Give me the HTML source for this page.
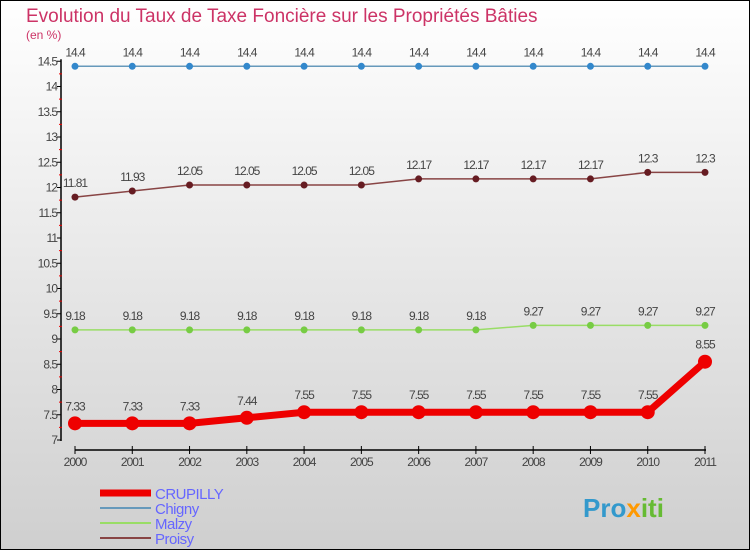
<!DOCTYPE html>
<html><head><meta charset="utf-8"><style>
body{margin:0;width:750px;height:550px;overflow:hidden}
svg{display:block;font-family:"Liberation Sans",sans-serif}
</style></head><body>
<svg id="c" width="750" height="550">
<defs><linearGradient id="bg" x1="0" y1="0" x2="0" y2="1"><stop offset="0" stop-color="#ffffff"/><stop offset="1" stop-color="#cfcfcf"/></linearGradient></defs>
<rect x="0.5" y="0.5" width="749" height="549" fill="url(#bg)" stroke="#000"/>
<text x="26" y="22" font-size="19" fill="#cc3366">Evolution du Taux de Taxe Foncière sur les Propriétés Bâties</text>
<text x="26" y="39" font-size="12" fill="#cc3366">(en %)</text>
<g id="axes"></g><g id="series"></g><g id="legend"></g>
<text x="583" y="517" font-size="26" font-weight="bold" fill="#3399cc">Pro<tspan fill="#ff9900">x</tspan><tspan fill="#66bb33">iti</tspan></text>
</svg>
<script>
const years=[2000,2001,2002,2003,2004,2005,2006,2007,2008,2009,2010,2011];
const crupilly=[7.33,7.33,7.33,7.44,7.55,7.55,7.55,7.55,7.55,7.55,7.55,8.55];
const chigny=[14.4,14.4,14.4,14.4,14.4,14.4,14.4,14.4,14.4,14.4,14.4,14.4];
const malzy=[9.18,9.18,9.18,9.18,9.18,9.18,9.18,9.18,9.27,9.27,9.27,9.27];
const proisy=[11.81,11.93,12.05,12.05,12.05,12.05,12.17,12.17,12.17,12.17,12.3,12.3];
const yTicks=[7,7.5,8,8.5,9,9.5,10,10.5,11,11.5,12,12.5,13,13.5,14,14.5];
const NS="http://www.w3.org/2000/svg";
const xs=i=>75+i*(630/11);
const ys=v=>440-(v-7)*50.5;
function mk(p,t,a){const e=document.createElementNS(NS,t);for(const k in a)e.setAttribute(k,a[k]);p.appendChild(e);return e;}
const ax=document.getElementById('axes');
let l=mk(ax,'line',{x1:61,y1:ys(14.5)-2,x2:61,y2:441,stroke:'#000','stroke-width':1.5});


yTicks.forEach((v,k)=>{
 const t=mk(ax,'line',{x1:57,x2:61,y1:ys(v),y2:ys(v),stroke:'#000'});
 
 
 if(k<yTicks.length-1){
  const r=mk(ax,'line',{x1:59,x2:62,y1:ys(v+0.25),y2:ys(v+0.25),stroke:'#e00'});
  
  
 }
 const tx=mk(ax,'text',{x:57,y:ys(v)+4,'font-size':12,fill:'#444','text-anchor':'end','letter-spacing':'-1'});
 tx.textContent=String(v);
 
 
});
l=mk(ax,'line',{x1:75,y1:450,x2:706,y2:450,stroke:'#000','stroke-width':1.5});


years.forEach((y,i)=>{
 const t=mk(ax,'line',{x1:xs(i),x2:xs(i),y1:446,y2:454,stroke:'#000'});
 
 
 const tx=mk(ax,'text',{x:xs(i),y:466,'font-size':12,fill:'#444','text-anchor':'middle','letter-spacing':'-1'});
 tx.textContent=y;
 
 
});
const sg=document.getElementById('series');
function series(name,data,col,dot,w,r,lab){
 const g=mk(sg,'g',{});
 
 
 const p=mk(g,'polyline',{points:data.map((v,i)=>xs(i)+','+ys(v)).join(' '),fill:'none',stroke:col,'stroke-width':w,'stroke-linejoin':'round'});
 
 
 data.forEach((v,i)=>{
  const c=mk(g,'circle',{cx:xs(i),cy:ys(v),r:r,fill:dot});
  
  
  const t=mk(g,'text',{x:xs(i),y:ys(v)-lab,'font-size':12,fill:'#444','text-anchor':'middle','letter-spacing':'-1'});
  t.textContent=String(v);
  
  
 });
}
series('chigny',chigny,'#6699bb','#3388cc',1.5,3.5,10);
series('proisy',proisy,'#884444','#661c22',1.5,3.5,10);
series('malzy',malzy,'#99dd66','#77cc44',1.5,3.5,10);
series('crupilly',crupilly,'#ee0000','#ee0000',7,7,13);
const lg=document.getElementById('legend');
[['CRUPILLY','#ee0000',7],['Chigny','#6699bb',2],['Malzy','#99dd66',2],['Proisy','#884444',2]].forEach((e,i)=>{
 const y=493+i*15;
 const g=mk(lg,'g',{});
 
 
 mk(g,'line',{x1:100,x2:151,y1:y,y2:y,stroke:e[1],'stroke-width':e[2]});
 const t=mk(g,'text',{x:155,y:y+6,'font-size':15,fill:'#6666ff','letter-spacing':'-0.5'});
 t.textContent=e[0];
});
</script>
</body></html>
